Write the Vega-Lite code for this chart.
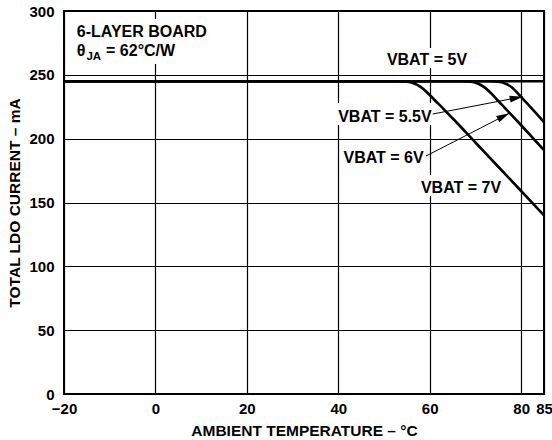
{
  "$schema": "https://vega.github.io/schema/vega-lite/v6.json",
  "width": 480,
  "height": 383,
  "autosize": {"type": "none"},
  "padding": {"left": 64, "top": 11, "right": 8, "bottom": 46},
  "background": "white",
  "config": {
    "view": {"stroke": "black", "strokeWidth": 2},
    "font": "Liberation Sans",
    "axis": {
      "labelFont": "Liberation Sans",
      "labelFontWeight": "bold",
      "labelFontSize": 15,
      "labelColor": "black",
      "titleFont": "Liberation Sans",
      "titleFontWeight": "bold",
      "titleFontSize": 15.5,
      "titleColor": "black",
      "grid": true,
      "gridColor": "black",
      "gridOpacity": 1,
      "gridWidth": 1.2,
      "ticks": false,
      "domain": false,
      "labelOverlap": false
    }
  },
  "datasets": {
    "curves": [
      {"s": "5V", "t": -20, "i": 245}, {"s": "5V", "t": 85, "i": 245},
      {"s": "5.5V", "t": -20, "i": 245}, {"s": "5.5V", "t": 73, "i": 245}, {"s": "5.5V", "t": 75, "i": 244.6}, {"s": "5.5V", "t": 76.5, "i": 243.2}, {"s": "5.5V", "t": 78, "i": 240.1}, {"s": "5.5V", "t": 79.5, "i": 234.6}, {"s": "5.5V", "t": 81, "i": 228.8}, {"s": "5.5V", "t": 83, "i": 221}, {"s": "5.5V", "t": 85, "i": 213},
      {"s": "6V", "t": -20, "i": 245}, {"s": "6V", "t": 67, "i": 245}, {"s": "6V", "t": 69, "i": 244.6}, {"s": "6V", "t": 70.5, "i": 243.2}, {"s": "6V", "t": 72, "i": 240.2}, {"s": "6V", "t": 73.5, "i": 235.3}, {"s": "6V", "t": 75, "i": 229.5}, {"s": "6V", "t": 77, "i": 222}, {"s": "6V", "t": 80, "i": 210.5}, {"s": "6V", "t": 85, "i": 191},
      {"s": "7V", "t": -20, "i": 245}, {"s": "7V", "t": 53, "i": 245}, {"s": "7V", "t": 55, "i": 244.6}, {"s": "7V", "t": 56.5, "i": 243.4}, {"s": "7V", "t": 58, "i": 240.6}, {"s": "7V", "t": 59.5, "i": 236}, {"s": "7V", "t": 61, "i": 230.5}, {"s": "7V", "t": 63, "i": 223.4}, {"s": "7V", "t": 65, "i": 216}, {"s": "7V", "t": 70, "i": 197}, {"s": "7V", "t": 75, "i": 178}, {"s": "7V", "t": 80, "i": 159}, {"s": "7V", "t": 85, "i": 140}
    ],
    "boxes": [
      {"t": -18.3, "t2": 12.2, "i": 293.7, "i2": 258.5},
      {"t": 50.0, "t2": 68.8, "i": 271, "i2": 255.4},
      {"t": 39.3, "t2": 60.9, "i": 228, "i2": 210.7},
      {"t": 40.6, "t2": 59.0, "i": 193.5, "i2": 178.6},
      {"t": 57.0, "t2": 76.7, "i": 171.5, "i2": 155.1}
    ],
    "leftText": [
      {"t": -17.2, "i": 279.6, "txt": "6-LAYER BOARD"},
      {"t": -17.2, "i": 264.8, "txt": "θ"}
    ],
    "midText": [
      {"t": -10.8, "i": 264.8, "txt": "= 62°C/W"}
    ],
    "subText": [
      {"t": -15.1, "i": 261.6, "txt": "JA"}
    ],
    "vbat": [
      {"t": 59.4, "i": 257.7, "txt": "VBAT = 5V"},
      {"t": 50.2, "i": 213.3, "txt": "VBAT = 5.5V"},
      {"t": 49.9, "i": 180.7, "txt": "VBAT = 6V"},
      {"t": 66.85, "i": 157.2, "txt": "VBAT = 7V"}
    ],
    "arrows": [
      {"t": 60.65, "i": 219.3, "t2": 80.34, "i2": 232.9},
      {"t": 59.19, "i": 186.4, "t2": 77.41, "i2": 219.9}
    ],
    "tip1": [{"t": 80.34, "i": 232.9}],
    "tip2": [{"t": 77.41, "i": 219.9}]
  },
  "encoding": {
    "x": {"field": "t", "type": "quantitative", "scale": {"domain": [-20, 85], "nice": false, "zero": false},
      "axis": {"values": [-20, 0, 20, 40, 60, 80, 85], "title": "AMBIENT TEMPERATURE – °C", "labelPadding": 7, "titlePadding": 7, "labelFlush": false}},
    "y": {"field": "i", "type": "quantitative", "scale": {"domain": [0, 300], "nice": false},
      "axis": {"values": [0, 50, 100, 150, 200, 250, 300], "title": "TOTAL LDO CURRENT – mA", "labelPadding": 10, "titlePadding": 6}}
  },
  "layer": [
    {
      "data": {"name": "boxes"},
      "mark": {"type": "rect", "color": "white"},
      "encoding": {
        "x2": {"field": "t2"},
        "y2": {"field": "i2"}
      }
    },
    {
      "data": {"name": "curves"},
      "mark": {"type": "line", "color": "black", "strokeWidth": 2.6, "interpolate": "monotone"},
      "encoding": {
        "detail": {"field": "s"}
      }
    },
    {
      "data": {"name": "arrows"},
      "mark": {"type": "rule", "color": "black", "strokeWidth": 1},
      "encoding": {
        "x2": {"field": "t2"},
        "y2": {"field": "i2"}
      }
    },
    {
      "data": {"name": "tip1"},
      "mark": {"type": "point", "shape": "M0,0 L-2,-0.54 L-2,0.54 Z", "filled": true, "color": "black", "opacity": 1, "size": 169, "angle": 349.1, "strokeWidth": 0}
    },
    {
      "data": {"name": "tip2"},
      "mark": {"type": "point", "shape": "M0,0 L-2,-0.54 L-2,0.54 Z", "filled": true, "color": "black", "opacity": 1, "size": 169, "angle": 332.9, "strokeWidth": 0}
    },
    {
      "data": {"name": "leftText"},
      "mark": {"type": "text", "align": "left", "baseline": "alphabetic", "font": "Liberation Sans", "fontWeight": "bold", "fontSize": 16, "color": "black"},
      "encoding": {
        "text": {"field": "txt"}
      }
    },
    {
      "data": {"name": "midText"},
      "mark": {"type": "text", "align": "left", "baseline": "alphabetic", "font": "Liberation Sans", "fontWeight": "bold", "fontSize": 16, "color": "black"},
      "encoding": {
        "text": {"field": "txt"}
      }
    },
    {
      "data": {"name": "subText"},
      "mark": {"type": "text", "align": "left", "baseline": "alphabetic", "font": "Liberation Sans", "fontWeight": "bold", "fontSize": 11.5, "color": "black"},
      "encoding": {
        "text": {"field": "txt"}
      }
    },
    {
      "data": {"name": "vbat"},
      "mark": {"type": "text", "align": "center", "baseline": "alphabetic", "font": "Liberation Sans", "fontWeight": "bold", "fontSize": 16, "color": "black"},
      "encoding": {
        "text": {"field": "txt"}
      }
    }
  ]
}
